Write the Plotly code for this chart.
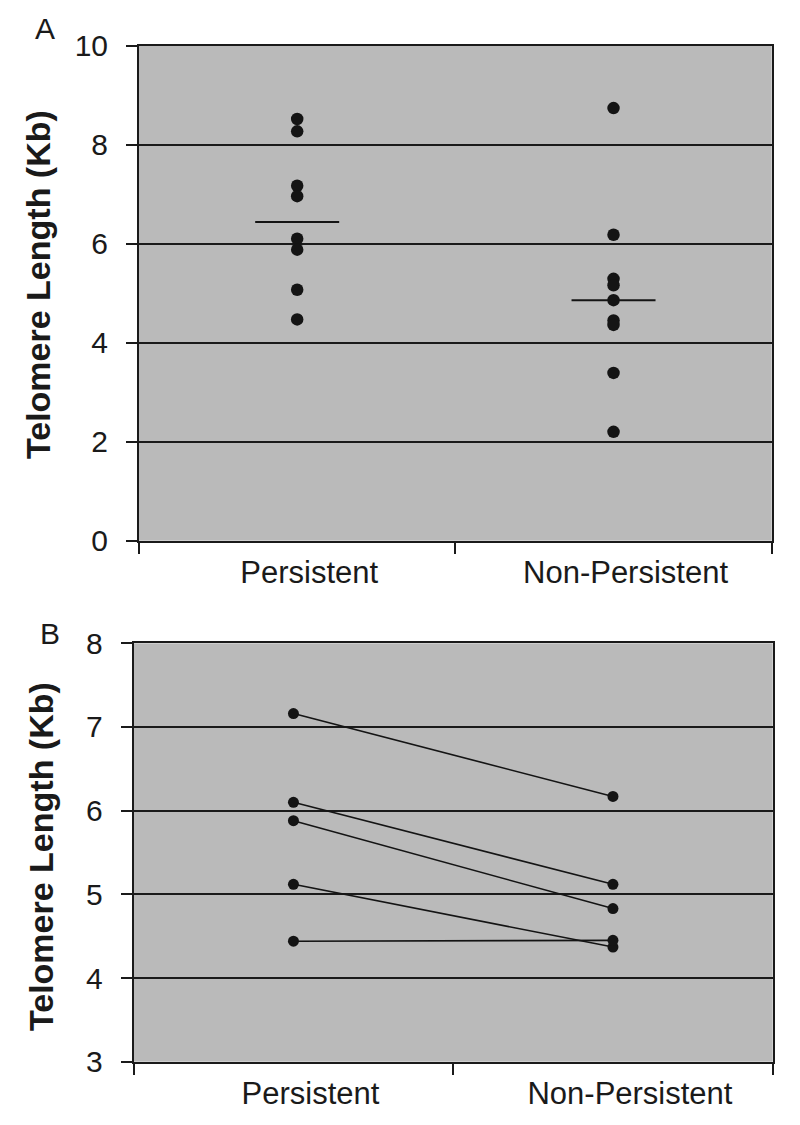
import plotly.graph_objects as go

# ---- data ----
categories = ["Persistent", "Non-Persistent"]
a_persistent = [8.52, 8.27, 7.17, 6.96, 6.10, 5.88, 5.07, 4.47]
a_nonpersistent = [8.74, 6.18, 5.29, 5.16, 4.86, 4.45, 4.36, 3.39, 2.20]
a_center = [6.44, 4.86]
b_persistent = [7.16, 6.10, 5.88, 5.12, 4.44]
b_nonpersistent = [6.17, 5.12, 4.83, 4.37, 4.45]
a_yticks = [0, 2, 4, 6, 8, 10]
b_yticks = [3, 4, 5, 6, 7, 8]
y_title = "Telomere Length (Kb)"
panel_labels = ["A", "B"]

FONT = "Liberation Sans, Arial, Helvetica, sans-serif"
TXT = "#1a1a1a"
BG = "#BABABA"

# page body has an 8px default margin; figure is sized to fill the 800x1125 window
OFF = 8
W, H = 800 - 2 * OFF, 1125 - 2 * OFF


def fx(px):
    return (px - OFF) / W


def fy(py):
    return 1 - (py - OFF) / H


fig = go.Figure()

# Panel A: dot plots
fig.add_trace(go.Scatter(
    x=[categories[0]] * len(a_persistent), y=a_persistent, mode="markers",
    marker=dict(size=12.5, color="#141414"), xaxis="x", yaxis="y", showlegend=False))
fig.add_trace(go.Scatter(
    x=[categories[1]] * len(a_nonpersistent), y=a_nonpersistent, mode="markers",
    marker=dict(size=12.5, color="#141414"), xaxis="x", yaxis="y", showlegend=False))
fig.add_trace(go.Scatter(
    x=categories, y=a_center, mode="markers",
    marker=dict(symbol="line-ew", size=60, line=dict(width=2, color="#141414")),
    xaxis="x", yaxis="y", showlegend=False))

# Panel B: paired lines
for p, n in zip(b_persistent, b_nonpersistent):
    fig.add_trace(go.Scatter(
        x=categories, y=[p, n], mode="lines+markers",
        line=dict(color="#141414", width=1.6),
        marker=dict(size=11, color="#141414"),
        xaxis="x2", yaxis="y2", showlegend=False))

xcommon = dict(
    type="category", categoryorder="array", categoryarray=categories,
    range=[-0.5, 1.5], showline=True, mirror=True, linecolor="#1a1a1a", linewidth=2,
    ticks="outside", tickson="boundaries", ticklen=11, tickwidth=1.5, tickcolor="#1a1a1a",
    showgrid=False, zeroline=False, automargin=False,
    tickfont=dict(family=FONT, size=31, color=TXT), ticklabelstandoff=3,
)
ycommon = dict(
    showline=True, mirror=True, linecolor="#1a1a1a", linewidth=2,
    ticks="outside", ticklen=11, tickwidth=1.5, tickcolor="#1a1a1a",
    showgrid=True, gridcolor="#1a1a1a", gridwidth=1.6, zeroline=False, automargin=False,
    tickfont=dict(family=FONT, size=30, color=TXT), ticklabelstandoff=12,
)

fig.update_layout(
    width=W, height=H,
    margin=dict(l=0, r=0, t=0, b=0),
    paper_bgcolor="white", plot_bgcolor=BG,
    xaxis=dict(xcommon, domain=[fx(139), fx(771.7)], anchor="y", ticklabelshift=12),
    yaxis=dict(ycommon, domain=[fy(540.7), fy(45.7)], anchor="x",
               range=[0, 10], tickvals=a_yticks),
    xaxis2=dict(xcommon, domain=[fx(133.7), fx(772.7)], anchor="y2", ticklabelshift=17),
    yaxis2=dict(ycommon, domain=[fy(1061.7), fy(643.3)], anchor="x2",
                range=[3, 8], tickvals=b_yticks),
)

ann = []
for yc, xc in [(285, 38), (857, 41)]:
    ann.append(dict(text=y_title, x=fx(xc), y=fy(yc), xref="paper", yref="paper",
                    showarrow=False, textangle=-90,
                    font=dict(family=FONT, size=34, color=TXT, weight="bold"),
                    xanchor="center", yanchor="middle"))
for lbl, (xc, yc) in zip(panel_labels, [(45, 28.5), (50, 633)]):
    ann.append(dict(text=lbl, x=fx(xc), y=fy(yc), xref="paper", yref="paper", showarrow=False,
                    font=dict(family=FONT, size=30, color=TXT),
                    xanchor="center", yanchor="middle"))
fig.update_layout(annotations=ann)

fig.write_html("out.html")
